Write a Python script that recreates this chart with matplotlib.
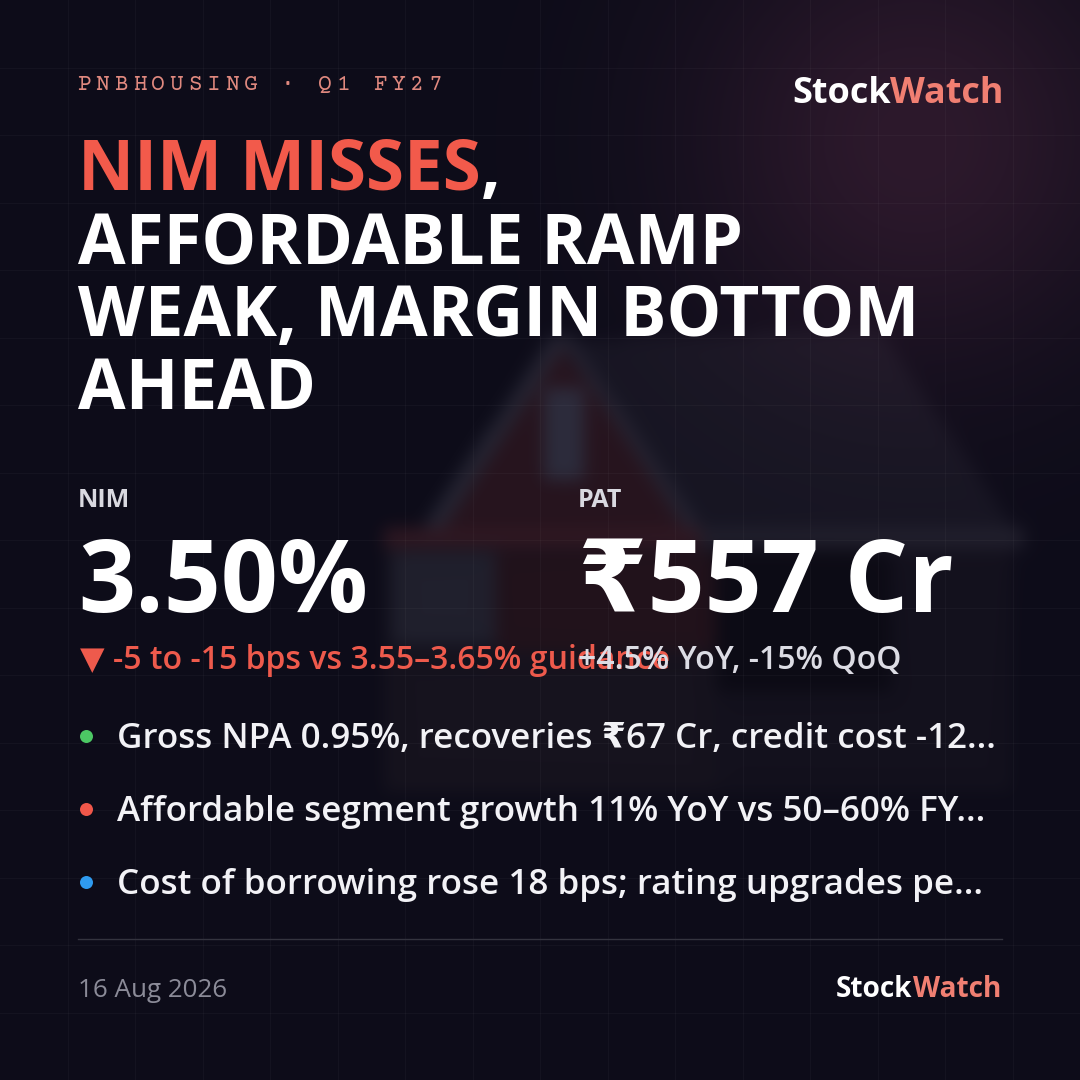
import numpy as np
import matplotlib
matplotlib.use("Agg")
import matplotlib.pyplot as plt
from matplotlib.path import Path

# ---------------- data ----------------
ticker_text = "PNBHOUSING · Q1 FY27"
brand_parts = ["Stock", "Watch"]
headline_accent = "NIM MISSES"
headline_rest = ["AFFORDABLE RAMP", "WEAK, MARGIN BOTTOM", "AHEAD"]
metric_labels = ["NIM", "PAT"]
metric_values = ["3.50%", "₹557 Cr"]
metric_deltas = ["▼ -5 to -15 bps vs 3.55–3.65% guidance", "+4.5% YoY, -15% QoQ"]
bullet_texts = [
    "Gross NPA 0.95%, recoveries ₹67 Cr, credit cost -12...",
    "Affordable segment growth 11% YoY vs 50–60% FY...",
    "Cost of borrowing rose 18 bps; rating upgrades pe...",
]
bullet_colors = ["#4cc864", "#f0574a", "#2f9bf0"]
date_text = "16 Aug 2026"

# ---------------- style ----------------
BG = (13, 12, 25)
RED = "#f25a4b"
SALMON = "#f07f72"
HEAD_SALMON = "#e0897f"
SANS = ["Open Sans", "DejaVu Sans", "Noto Sans"]
MONO = ["Courier Prime", "Cutive Mono", "DejaVu Sans Mono"]
W = 1080

fig = plt.figure(figsize=(10.8, 10.8), dpi=100)
ax = fig.add_axes([0, 0, 1, 1])
ax.set_xlim(0, W)
ax.set_ylim(W, 0)
ax.axis("off")

# ---------------- background raster (glow + blurred house) ----------------
N = 270
s = W / N
yy, xx = np.mgrid[0:N, 0:N]
px = (xx + 0.5) * s
py = (yy + 0.5) * s
img = np.zeros((N, N, 3))
img[:] = np.array(BG) / 255.0
pts = np.column_stack([px.ravel(), py.ravel()])


def fill(verts, color, alpha=1.0):
    m = Path(verts).contains_points(pts).reshape(N, N)
    img[m] = img[m] * (1 - alpha) + np.array(color) / 255.0 * alpha


def rect(x0, y0, x1, y1):
    return [(x0, y0), (x1, y0), (x1, y1), (x0, y1)]


fill([(560, 340), (880, 330), (1025, 545), (700, 545)], (22, 21, 34))
fill(rect(385, 540, 1010, 790), (19, 17, 29))
fill([(560, 345), (425, 535), (700, 535)], (38, 20, 30))
fill([(553, 335), (568, 340), (434, 540), (414, 540)], (38, 38, 52))
fill([(556, 335), (570, 336), (710, 540), (694, 540)], (36, 36, 50))
fill(rect(543, 388, 585, 478), (44, 44, 60))
fill(rect(385, 528, 700, 548), (48, 24, 34))
fill(rect(700, 528, 1025, 548), (32, 31, 44))
fill(rect(392, 553, 496, 645), (32, 32, 45))
fill(rect(496, 550, 717, 700), (33, 18, 27))
fill(rect(717, 548, 892, 692), (12, 11, 21))
fill(rect(385, 650, 717, 790), (22, 19, 30))

# gaussian blur (separable)
sig = 2.0
idx = np.arange(N)
K = np.exp(-((idx[:, None] - idx[None, :]) ** 2) / (2 * sig ** 2))
K /= K.sum(axis=1, keepdims=True)
for c in range(3):
    img[:, :, c] = K @ img[:, :, c] @ K.T

glow = np.exp(-((px - 917) ** 2 + (py - 140) ** 2) / (2 * 160 ** 2))
img += glow[..., None] * np.array([32, 13, 19]) / 255.0
img = np.clip(img, 0, 1)
ax.imshow(img, extent=(0, W, W, 0), interpolation="bicubic", zorder=0)

# grid
for g in np.arange(67.5, W, 67.5):
    ax.axhline(g, color="white", alpha=0.03, lw=0.72, zorder=1)
    ax.axvline(g, color="white", alpha=0.03, lw=0.72, zorder=1)

renderer = fig.canvas.get_renderer()


def T(x, y, text, size_px, color, weight="bold", ha="left", family=SANS, z=3):
    return ax.text(x, y, text, fontsize=size_px * 0.72, color=color,
                   fontweight=weight, ha=ha, va="baseline", family=family, zorder=z)


def left_edge(t):
    return t.get_window_extent(renderer).x0


def right_edge(t):
    return t.get_window_extent(renderer).x1


# ---------------- header ----------------
pitch = 18.5
for i, ch in enumerate(ticker_text):
    ax.text(84 + i * pitch, 90, ch, fontsize=23 * 0.72, color=HEAD_SALMON,
            family=MONO, ha="center", va="baseline", zorder=3)

tw = T(1004, 103, brand_parts[1], 36, SALMON, ha="right")
T(left_edge(tw), 103, brand_parts[0], 36, "white", ha="right")

# ---------------- headline ----------------
hs = 69
t0 = T(78, 190, headline_accent, hs, RED)
T(right_edge(t0), 190, ",", hs, "white")
for k, line in enumerate(headline_rest):
    T(78, 263 + k * 73, line, hs, "white")

# ---------------- metrics ----------------
for k, x in enumerate([78, 578]):
    T(x, 507, metric_labels[k], 25, "#d9d9e0")
    T(x, 612, metric_values[k], 100, "white")
T(80, 669, metric_deltas[0], 32, "#ee5a4c", weight="semibold")
T(578, 669, metric_deltas[1], 32, "#dcdce4", weight="semibold", z=4)

# ---------------- bullets ----------------
for k, (txt, col) in enumerate(zip(bullet_texts, bullet_colors)):
    y = 748 + k * 73
    ax.scatter([86], [y - 12], s=(13 * 0.72) ** 2, color=col, zorder=3, linewidths=0)
    T(117, y, txt, 35, "#f2f2f6", weight="semibold")

# ---------------- footer ----------------
ax.plot([78, 1002], [939, 939], color="#34343f", lw=1.0, zorder=2)
T(78, 997, date_text, 26, "#8b8b98", weight="normal")
fw = T(1001, 997, brand_parts[1], 28, SALMON, ha="right")
T(left_edge(fw), 997, brand_parts[0], 28, "white", ha="right")

fig.savefig("out.png", dpi=100, facecolor=np.array(BG) / 255.0)
